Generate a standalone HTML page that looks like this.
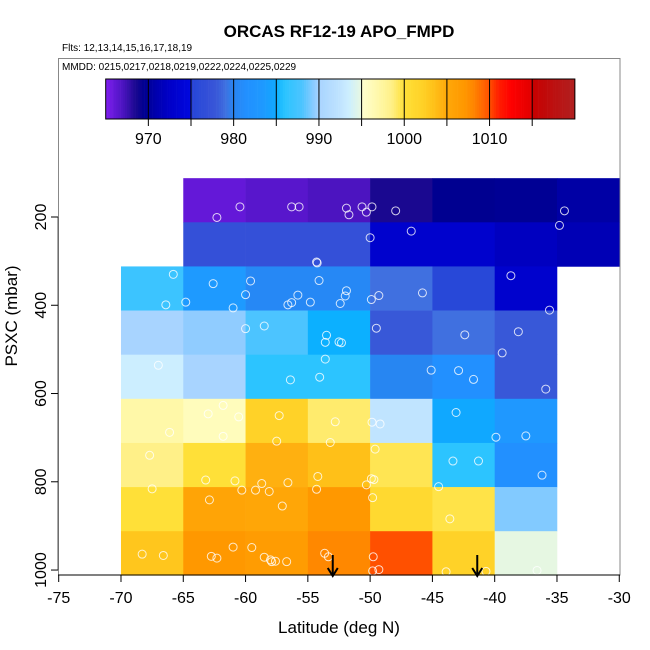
<!DOCTYPE html>
<html><head><meta charset="utf-8"><style>
html,body{margin:0;padding:0;background:#fff;}
svg{display:block;font-family:"Liberation Sans",sans-serif;}
</style></head><body>
<svg id="chart" width="650" height="650" viewBox="0 0 650 650">
<text x="339" y="37" text-anchor="middle" font-size="17" font-weight="bold">ORCAS RF12-19 APO_FMPD</text>
<text x="62" y="51" font-size="10">Flts: 12,13,14,15,16,17,18,19</text>
<rect x="58.5" y="58.5" width="561.5" height="516.5" fill="none" stroke="#888" stroke-width="1"/>
<text x="62" y="70" font-size="10">MMDD: 0215,0217,0218,0219,0222,0224,0225,0229</text>
<g id="cells"></g>
<g id="cbar"></g>
<g id="pts"></g>
<g id="axes"></g>
<text x="339" y="633" text-anchor="middle" font-size="17">Latitude (deg N)</text>
<text transform="translate(17,316) rotate(-90)" text-anchor="middle" font-size="17">PSXC (mbar)</text>
</svg>
<script>
const latEdges = [-70,-65,-60,-55,-50,-45,-40,-35,-30];
const presTops = [112,212,312,412,512,612,712,812,912];
const cellValues = [
 [null,966,966.5,967,968.5,969.5,969.7,970.5],
 [null,977,977,977,973,973,972,971.3],
 [987,983.5,980.5,980.5,979,975.5,973,null],
 [990,989.5,988,985,978,979,978,null],
 [993.5,990,986,986,980.2,981.5,978,null],
 [997,996,1002,999,992.5,984.9,983,null],
 [998.5,1000,1004.5,1003.5,999.5,986,981.5,null],
 [1000,1005.5,1005.3,1007,1001,999.7,989.2,null],
 [1003,1007,1006.5,1008,1010,1002,994.9,null]
];
const ptLat = [-60.45,-62.3,-56.3,-55.7,-51.9,-51.7,-50.65,-49.85,-50.3,-47.95,-34.4,-34.8,-46.7,-50.0,-54.3,-54.25,-65.8,-62.6,-59.6,-54.1,-38.7,-66.4,-64.8,-61.0,-60.0,-55.8,-56.3,-56.6,-54.8,-51.9,-52.0,-52.4,-49.9,-49.3,-45.8,-35.6,-60.0,-58.5,-53.5,-53.6,-52.5,-52.3,-49.5,-42.4,-38.1,-39.4,-67.0,-53.6,-45.1,-42.9,-54.05,-56.4,-41.7,-35.9,-43.1,-61.8,-63.0,-60.55,-66.1,-61.8,-57.3,-57.5,-52.8,-53.2,-49.85,-49.2,-39.9,-37.5,-67.7,-49.6,-43.35,-41.3,-36.2,-63.2,-60.85,-58.7,-56.6,-54.2,-49.9,-49.7,-50.3,-67.5,-60.3,-59.2,-58.1,-54.3,-44.5,-62.9,-57.05,-49.8,-43.6,-68.3,-66.6,-62.75,-62.3,-61.0,-59.5,-58.5,-58.0,-57.9,-57.6,-56.7,-53.65,-53.35,-49.75,-49.8,-49.3,-43.9,-40.7,-36.6];
const ptPres = [177,201,177,177,180,195,177,177,189,186,186,219,232,247,302,304,330,351,345,344,333,399,393,406,376,377,394,399,393,367,379,396,387,378,372,411,453,447,468,484,483,485,452,467,460,508,536,522,547,548,563,569,568,590,643,627,646,653,688,697,650,708,664,711,665,669,699,696,740,726,753,753,785,796,798,804,802,788,793,795,807,816,819,819,822,817,811,841,855,836,884,964,967,969,973,948,949,971,977,981,980,981,962,970,970,1002,999,1004,1003,1001];
const arrowLat = [-53.0,-41.4];
const xTicks = [-75,-70,-65,-60,-55,-50,-45,-40,-35,-30];
const yTicks = [200,400,600,800,1000];
const cbTicks = [970,980,990,1000,1010];
const cbLines = [970,975,980,985,990,995,1000,1005,1010,1015];

const stops = [[965,'#8020f0'],[966,'#6418d8'],[967,'#4c14c0'],[968.5,'#1a0890'],[969.5,'#000090'],[970,'#00009a'],[971,'#0000b0'],[972.5,'#0000c8'],[974.99,'#0008e0'],[975,'#2840d4'],[975.5,'#2848d8'],[977,'#3450d8'],[978,'#3858d8'],[979,'#4070e0'],[980,'#2884f0'],[981.5,'#2290ff'],[983.5,'#1e9aff'],[984.9,'#10a8ff'],[985,'#0cb0ff'],[986,'#2cc4ff'],[987,'#3cc4ff'],[988,'#4cc4ff'],[989.5,'#90ccff'],[990,'#a8d4ff'],[992.5,'#c0e4ff'],[993.5,'#cceeff'],[995,'#e8f8e0'],[995.01,'#ffffd0'],[997,'#fff8a8'],[998.5,'#fff088'],[1000,'#ffe038'],[1002,'#ffd228'],[1003.5,'#ffc018'],[1004.5,'#ffb010'],[1005,'#ffa808'],[1007,'#ff9800'],[1008,'#ff8800'],[1010,'#ff5000'],[1011,'#ff2000'],[1012.5,'#ff0000'],[1015,'#e00000'],[1015.01,'#c80000'],[1020,'#b02020']];
function hex(c){return [1,3,5].map(i=>parseInt(c.substr(i,2),16));}
function cmap(v){
  if(v<=stops[0][0]) return stops[0][1];
  for(let i=1;i<stops.length;i++){
    if(v<=stops[i][0]){
      const a=hex(stops[i-1][1]),b=hex(stops[i][1]);
      const t=(v-stops[i-1][0])/(stops[i][0]-stops[i-1][0]);
      return 'rgb('+a.map((x,k)=>Math.round(x+(b[k]-x)*t)).join(',')+')';
    }
  }
  return stops[stops.length-1][1];
}
const xS = lat => 58.7 + (lat+75)*12.457;
const yS = p => 217 + (p-200)*0.4413;
const cbX = v => 105.7 + (v-965)*8.53;
const NS='http://www.w3.org/2000/svg';
function mk(tag,attrs,parent){const e=document.createElementNS(NS,tag);for(const k in attrs)e.setAttribute(k,attrs[k]);parent.appendChild(e);return e;}

const gc=document.getElementById('cells');
cellValues.forEach((row,r)=>row.forEach((v,c)=>{
  if(v===null) return;
  const x0=xS(latEdges[c]),x1=xS(latEdges[c+1]),y0=yS(presTops[r]),y1=yS(presTops[r]+100);
  const e=mk('rect',{x:x0,y:y0,width:x1-x0+0.3,height:y1-y0+0.3,fill:cmap(v)},gc);
  
  
}));

const cb=document.getElementById('cbar');
for(let v=965;v<1020;v+=0.25){
  const e=mk('rect',{x:cbX(v),y:79,width:cbX(v+0.25)-cbX(v)+0.3,height:40,fill:cmap(v+0.125)},cb);
  
  
}
mk('rect',{x:cbX(965),y:79,width:cbX(1020)-cbX(965),height:40,fill:'none',stroke:'#000','stroke-width':1},cb);
cbLines.forEach(v=>{
  const e=mk('line',{x1:cbX(v),x2:cbX(v),y1:79,y2:126,stroke:'#000','stroke-width':1},cb);
  
  
});
cbTicks.forEach(v=>{
  const t=mk('text',{x:cbX(v),y:144,'text-anchor':'middle','font-size':16},cb);
  t.textContent=v;
  
  
});

const gp=document.getElementById('pts');
ptLat.forEach((lat,i)=>{
  const e=mk('circle',{cx:xS(lat),cy:yS(ptPres[i]),r:4,fill:'none',stroke:'#fff','stroke-opacity':0.8,'stroke-width':1},gp);
  
  
});
arrowLat.forEach(lat=>{
  const x=xS(lat);
  const g=mk('g',{},gp);
  
  
  mk('line',{x1:x,x2:x,y1:555,y2:575,stroke:'#000','stroke-width':2},g);
  mk('polyline',{points:(x-5)+',568 '+x+',576 '+(x+5)+',568',fill:'none',stroke:'#000','stroke-width':2},g);
});

const ga=document.getElementById('axes');
mk('line',{x1:58,x2:620,y1:575,y2:575,stroke:'#000','stroke-width':1},ga);
mk('line',{x1:58,x2:58,y1:yS(200),y2:yS(1000),stroke:'#555','stroke-width':1},ga);
xTicks.forEach(v=>{
  mk('line',{x1:xS(v),x2:xS(v),y1:575,y2:582,stroke:'#000'},ga);
  const t=mk('text',{x:xS(v),y:603,'text-anchor':'middle','font-size':16},ga);
  t.textContent=v;
  
  
});
yTicks.forEach(v=>{
  mk('line',{x1:51,x2:58,y1:yS(v),y2:yS(v),stroke:'#000'},ga);
  const t=mk('text',{transform:'translate(46,'+yS(v)+') rotate(-90)','text-anchor':'middle','font-size':16},ga);
  t.textContent=v;
  
  
});
</script>
</body></html>
